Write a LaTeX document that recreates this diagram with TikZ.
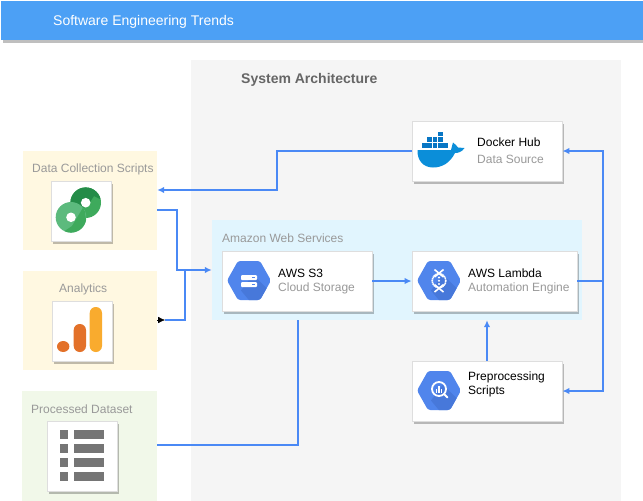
\documentclass[tikz,border=0pt]{standalone}
\usepackage{fontspec}
\setmainfont{Liberation Sans}
\usetikzlibrary{arrows.meta,shadows}

\begin{document}
\begin{tikzpicture}[x=1pt,y=-1pt,>={Latex[length=7pt,width=6.5pt]}]

% Colors
\definecolor{headerblue}{RGB}{76,160,245}
\definecolor{panelgrey}{RGB}{245,245,245}
\definecolor{creambg}{RGB}{255,248,225}
\definecolor{greenbg}{RGB}{241,248,233}
\definecolor{awsbg}{RGB}{225,245,254}
\definecolor{mainline}{RGB}{74,137,245}
\definecolor{hexblue}{RGB}{80,133,236}
\definecolor{hexfold}{RGB}{71,120,218}
\definecolor{greylabel}{RGB}{153,153,153}
\definecolor{dockerblue}{RGB}{11,142,217}
\definecolor{dockerbox}{RGB}{8,118,196}
\definecolor{ringdark}{RGB}{36,140,72}
\definecolor{ringmid}{RGB}{62,170,92}
\definecolor{ringlight}{RGB}{92,186,125}
\definecolor{baramber}{RGB}{249,171,46}
\definecolor{barorange}{RGB}{227,113,41}

% Styles
\tikzset{
  group/.style={
    rectangle,
    fill=#1,
    draw=none,
    inner sep=0pt
  },
  card/.style={
    rectangle,
    fill=white,
    draw=black!13,
    line width=0.8pt,
    inner sep=0pt,
    minimum height=60pt,
    copy shadow={shadow xshift=2pt,shadow yshift=-2.5pt,fill=black,draw=none,opacity=0.25}
  },
  caption/.style={
    anchor=west,
    inner sep=0pt,
    text=greylabel,
    font=\fontsize{12}{14}\selectfont
  },
  heading/.style={
    anchor=west,
    inner sep=0pt,
    text=black,
    font=\fontsize{12}{14}\selectfont
  },
  link/.style={
    line width=1.6pt,
    draw=mainline,
    line join=miter
  },
  linkarrow/.style={
    link,
    -{Latex[length=7pt,width=6.5pt,color=mainline]}
  },
  hexicon/.pic={
    \begin{scope}
      \clip[rounded corners=2.5pt] (-22,0) -- (-11,-19.5) -- (11,-19.5) -- (22,0) -- (11,19.5) -- (-11,19.5) -- cycle;
      \fill[hexblue] (-22,-20) rectangle (22,20);
      \fill[hexfold] (4,-6) -- (24,14) -- (24,22) -- (2,22) -- (-8,10) -- cycle;
    \end{scope}
  }
}

\useasboundingbox (0,0) rectangle (643,501);

% Header
\node[group=headerblue,minimum width=642pt,minimum height=39pt,
  copy shadow={shadow xshift=2pt,shadow yshift=-2.5pt,fill=black,draw=none,opacity=0.25}] (header) at (322,20.5) {};
\node[anchor=west,inner sep=0pt,text=white,font=\fontsize{14}{16}\selectfont] (title) at (53,22) {Software Engineering Trends};

% Panels
\node[group=panelgrey,minimum width=430pt,minimum height=441pt] (system) at (406,280.5) {};
\node[anchor=west,inner sep=0pt,text=black!60,font=\bfseries\fontsize{14}{16}\selectfont] (systemlabel) at (241,80) {System Architecture};
\node[group=awsbg,minimum width=370pt,minimum height=100pt] (aws) at (397,270) {};
\node[caption] (awslabel) at (222,238) {Amazon Web Services};

% Left groups
\node[group=creambg,minimum width=134pt,minimum height=99pt] (collect) at (90,200.5) {};
\node[group=creambg,minimum width=134pt,minimum height=99pt] (analytics) at (90,320.5) {};
\node[group=greenbg,minimum width=135pt,minimum height=110pt] (dataset) at (89.5,446) {};
\node[caption] (collectlabel) at (32,169.2) {Data Collection Scripts};
\node[caption] (analyticslabel) at (59,289.2) {Analytics};
\node[caption] (datasetlabel) at (31,409) {Processed Dataset};

% Cards
\node[card,minimum width=60pt] (collectcard) at (81,211) {};
\node[card,minimum width=60pt] (analyticscard) at (82,331) {};
\node[card,minimum width=70pt,minimum height=70pt] (datasetcard) at (82,456) {};
\node[card,minimum width=150pt] (docker) at (487,151) {};
\node[card,minimum width=150pt] (s3) at (297,281) {};
\node[card,minimum width=165pt] (lambda) at (494.5,281) {};
\node[card,minimum width=150pt] (prep) at (487,391) {};

% Card texts
\node[heading] (dockertitle) at (477,142) {Docker Hub};
\node[caption] (dockersub) at (477,159) {Data Source};
\node[heading] (s3title) at (278,273) {AWS S3};
\node[caption] (s3sub) at (278,288) {Cloud Storage};
\node[heading] (lambdatitle) at (468,273.5) {AWS Lambda};
\node[caption] (lambdasub) at (468,288) {Automation Engine};
\node[heading] (preptitle) at (468,377.7) {Preprocessing};
\node[heading] (prepsub) at (468,391.5) {Scripts};

% Connector bends
\coordinate (dockerbendA) at (277,151);
\coordinate (dockerbendB) at (277,190);
\coordinate (collectbendA) at (177,210);
\coordinate (collectbendB) at (177,270);
\coordinate (analyticsstart) at (165,320);
\coordinate (analyticsbendA) at (185,320);
\coordinate (analyticsbendB) at (185,270);
\coordinate (datasetbendA) at (298,445);
\coordinate (datasetbendB) at (298,320);
\coordinate (lambdajoin) at (603,281);
\coordinate (busA) at (603,151);
\coordinate (busB) at (603,391);

% Connectors
\draw[linkarrow] (docker.west) -- (dockerbendA) -- (dockerbendB) -- ([yshift=10.5pt]collect.east);
\draw[linkarrow] ([yshift=-9.5pt]collect.east) -- (collectbendA) -- (collectbendB) -- (aws.west);
\draw[link] (analyticsstart) -- (analyticsbendA) -- (analyticsbendB);
\draw[->,black] ([yshift=0.5pt]analytics.east) -- (analyticsstart);
\draw[link] ([yshift=1pt]dataset.east) -- (datasetbendA) -- (datasetbendB);
\draw[linkarrow] (s3.east) -- (lambda.west);
\draw[linkarrow] (prep.north) -- (aws.south -| prep.north);
\draw[link] (lambda.east) -- (lambdajoin);
\draw[linkarrow] (lambdajoin) -- (busA) -- (docker.east);
\draw[linkarrow] (lambdajoin) -- (busB) -- (prep.east);

% Docker icon
\fill[dockerblue] (417.5,150) -- (451,150) .. controls (452,147) and (452,145) .. (453,142.5)
  .. controls (455,144) and (457,146) .. (458,147.5) -- (464.5,148)
  .. controls (462,152) and (458,153) .. (455,153)
  .. controls (450,163) and (442,167.5) .. (433,167.5)
  .. controls (423,167.5) and (417,160) .. (417.5,150) -- cycle;
\foreach \col in {0,...,4} {
  \fill[dockerbox] (422+5.3*\col,142.5) rectangle ++(4.7,5.8);
}
\foreach \col in {1,2,3} {
  \fill[dockerbox] (422+5.3*\col,137) rectangle ++(4.7,4.9);
}
\fill[dockerbox] (437.9,132) rectangle ++(4.7,4.4);

% Hexagon icons
\pic at (249,280.5) {hexicon};
\pic at (439,280.5) {hexicon};
\pic at (439,390.5) {hexicon};

% S3 glyph
\fill[white,rounded corners=1pt] (241,275) rectangle (257,280);
\fill[white,rounded corners=1pt] (241,282) rectangle (257,287);
\fill[hexblue] (252,276.5) rectangle (254.5,278);
\fill[hexblue] (252,283.5) rectangle (254.5,285);

% Lambda glyph
\draw[white,line width=1.6pt] (434.5,269.5) -- (443.5,277);
\draw[white,line width=1.6pt] (443.5,269.5) -- (434.5,277);
\draw[white,line width=1.6pt] (434.5,292) -- (443.5,284.5);
\draw[white,line width=1.6pt] (443.5,292) -- (434.5,284.5);
\draw[white,line width=1.6pt,dash pattern=on 1.4pt off 0.5pt] (439,280.7) ellipse (6.8 and 7);
\foreach \dotpos in {277.5,280.7,283.9} {
  \fill[white] (439,\dotpos) circle (1.1);
}

% Preprocessing glyph
\draw[white,line width=1.8pt] (439,389) circle (7);
\draw[white,line width=2pt,line cap=round] (444.5,394.5) -- (447.5,397.5);
\fill[white] (435.6,388.5) rectangle ++(1.5,4);
\fill[white] (438.2,385.5) rectangle ++(1.5,7);
\fill[white] (440.8,389) rectangle ++(1.5,3.5);

% Collection icon
\fill[ringmid] (85.7,202.7) circle (15.3);
\begin{scope}
  \clip (85.7,202.7) circle (15.3);
  \fill[ringdark] (68,215) -- (68,186) -- (104,186) -- (104,201) -- (94,196) -- (88,205) -- cycle;
\end{scope}
\fill[ringlight] (71,217.3) circle (15.3);
\begin{scope}
  \clip (71,217.3) circle (15.3);
  \fill[ringmid] (60,234) -- (72,226) -- (84,206) -- (88,234) -- cycle;
\end{scope}
\fill[white] (85.7,202.7) circle (4.8);
\fill[white] (71,217.3) circle (4.8);

% Analytics icon
\fill[baramber,rounded corners=6pt] (89.7,307) rectangle (102,352);
\fill[barorange,rounded corners=6pt] (73.7,324) rectangle (86,352);
\fill[barorange] (63.2,346.5) ellipse (6.2 and 5.5);

% Dataset icon
\foreach \rowpos in {430.3,444.3,458.3,472.3} {
  \fill[black!54] (59.7,\rowpos) rectangle ++(8.3,8.2);
  \fill[black!54] (73.7,\rowpos) rectangle ++(30.6,8.2);
}

\end{tikzpicture}
\end{document}
